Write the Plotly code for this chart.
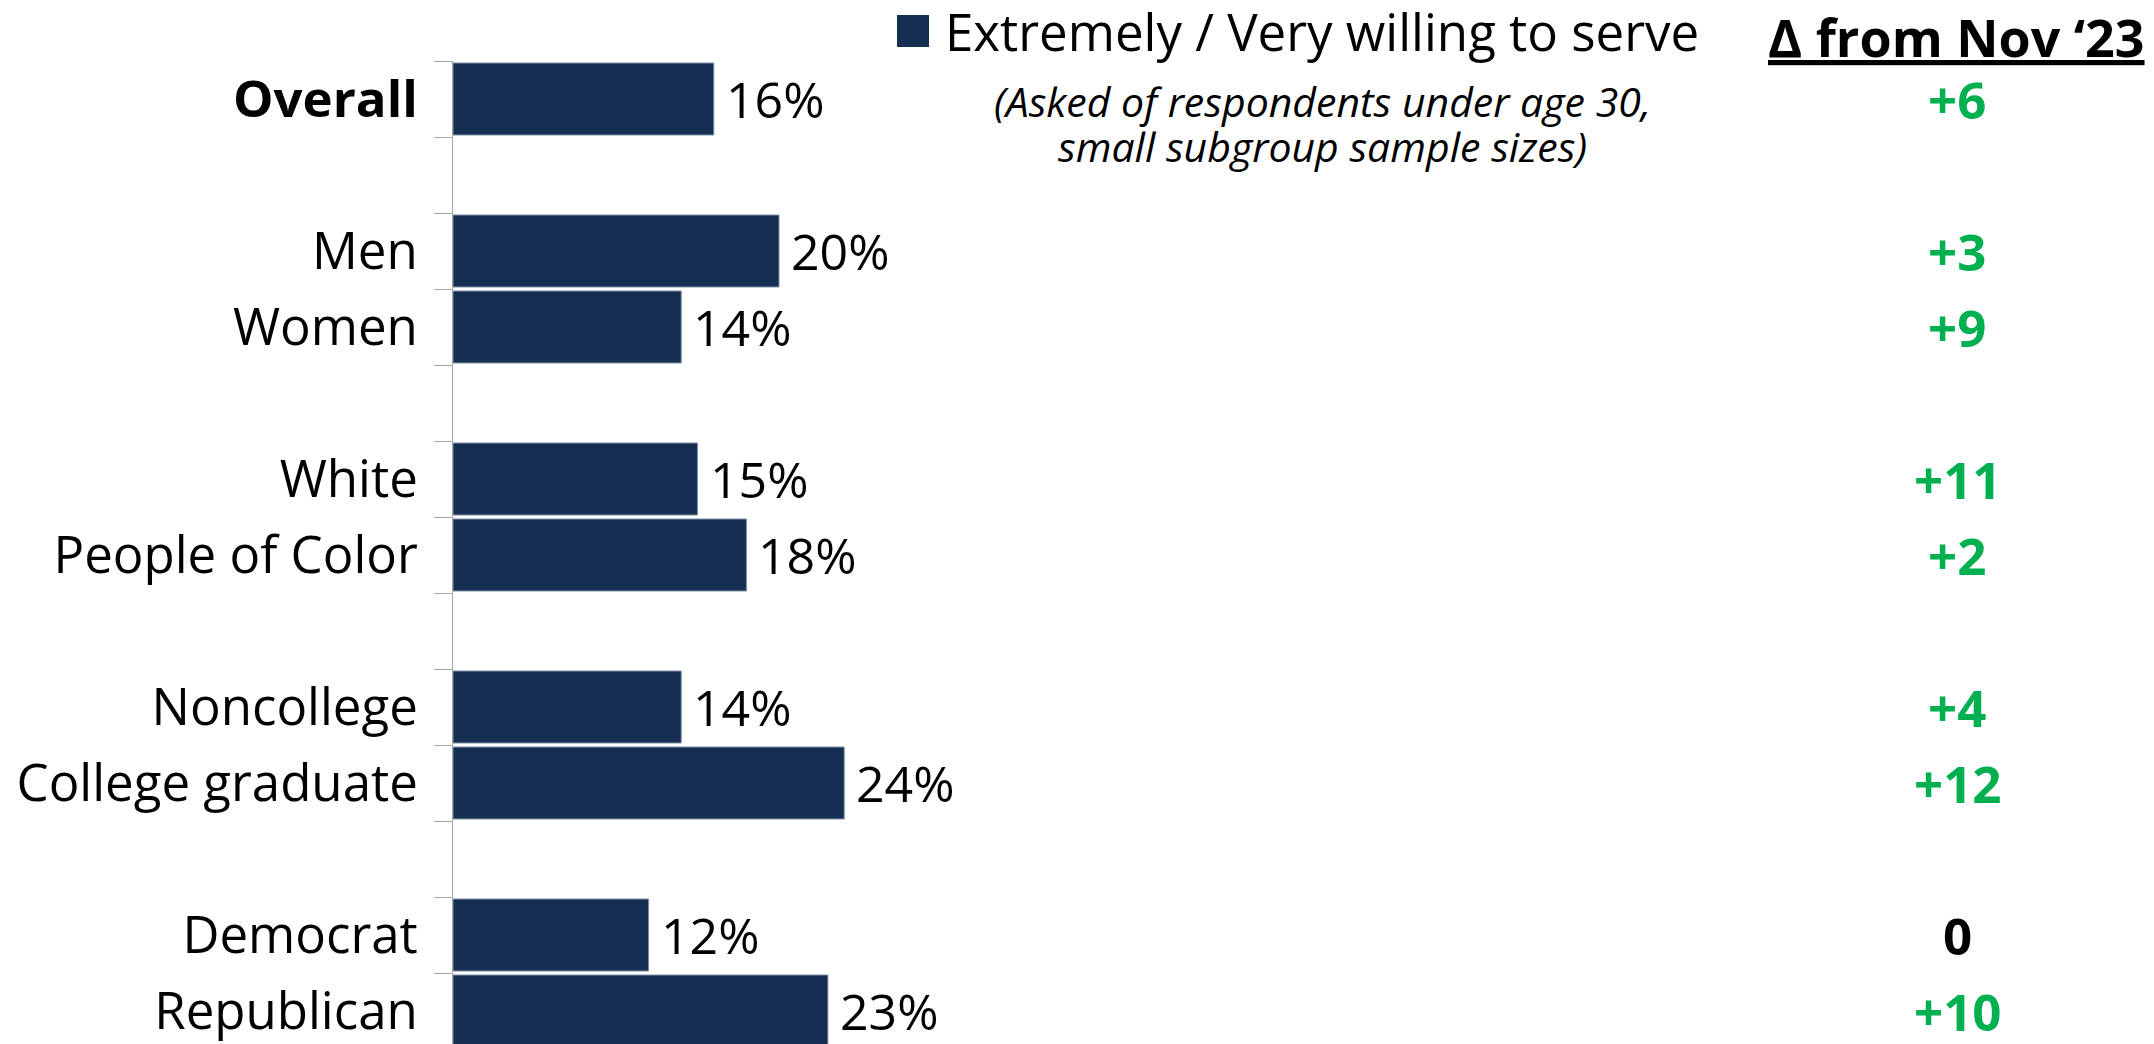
import plotly.graph_objects as go

# ---- data ----
labels = ["Overall", "Men", "Women", "White", "People of Color",
          "Noncollege", "College graduate", "Democrat", "Republican"]
values = [16, 20, 14, 15, 18, 14, 24, 12, 23]
deltas = ["+6", "+3", "+9", "+11", "+2", "+4", "+12", "0", "+10"]
category_order = ["Overall", " ", "Men", "Women", "  ", "White", "People of Color",
                  "   ", "Noncollege", "College graduate", "    ", "Democrat", "Republican"]
legend_label = "Extremely / Very willing to serve"
subtitle_lines = ["(Asked of respondents under age 30,", "small subgroup sample sizes)"]
delta_header = "Δ from Nov ‘23"

# ---- style ----
W, H = 2154, 1044
OFF = 8  # page body offset
ML, MT, MR, MB = 453 - OFF, 61 - OFF, OFF, OFF
PW, PH = W - ML - MR, H - MT - MB
FONT = "Open Sans, Noto Sans, sans-serif"
BAR = "#152e51"
GREEN = "#00b050"
PX_PER_PCT = 16.3


def px(x):  # page pixel -> paper
    return (x - OFF - ML) / PW


def py(y):
    return (H - MB - (y - OFF)) / PH


fig = go.Figure()
fig.add_trace(go.Bar(
    y=labels, x=values, orientation="h",
    marker=dict(color=BAR, line=dict(color="#7f90a8", width=1)),
    showlegend=False, hoverinfo="skip",
))

ticktext = ["<b>Overall</b>" if c == "Overall" else c for c in category_order]

fig.update_layout(
    width=W, height=H,
    margin=dict(l=ML, r=MR, t=MT, b=MB, pad=0),
    plot_bgcolor="white", paper_bgcolor="white",
    bargap=0.053,
    font=dict(family=FONT, color="black"),
    xaxis=dict(range=[0, PW / PX_PER_PCT], visible=False, showgrid=False, zeroline=False),
    yaxis=dict(
        type="category", categoryorder="array", categoryarray=category_order,
        tickmode="array", tickvals=category_order, ticktext=ticktext,
        range=[12.5 - 5 / 76, -0.5],
        tickson="boundaries", ticks="outside", ticklen=18, tickcolor="#a6a6a6", tickwidth=1,
        showline=True, linecolor="#a6a6a6", linewidth=1,
        showgrid=False, zeroline=False,
        tickfont=dict(size=51, family=FONT, color="black"),
        ticklabelstandoff=24,
    ),
)

# value labels
for lab, v in zip(labels, values):
    fig.add_annotation(x=v, y=lab, xref="x", yref="y", text=f"{v}%", showarrow=False,
                       xanchor="left", yanchor="middle", xshift=10,
                       font=dict(size=50, family=FONT, color="black"))

# delta column
for lab, d in zip(labels, deltas):
    fig.add_annotation(x=px(1957), y=lab, xref="paper", yref="y", text=f"<b>{d}</b>",
                       showarrow=False, xanchor="center", yanchor="middle",
                       font=dict(size=51, family=FONT, color=("black" if d == "0" else GREEN)))

# header
fig.add_annotation(x=px(1956), y=py(37), xref="paper", yref="paper",
                   text=f"<b><u>{delta_header}</u></b>", showarrow=False,
                   xanchor="center", yanchor="middle",
                   font=dict(size=52, family=FONT, color="black"))

# legend
fig.add_shape(type="rect", xref="paper", yref="paper",
              x0=px(897), x1=px(929), y0=py(47), y1=py(15),
              fillcolor=BAR, line=dict(width=0))
fig.add_annotation(x=px(943), y=py(31), xref="paper", yref="paper",
                   text=legend_label, showarrow=False, xanchor="left", yanchor="middle",
                   font=dict(size=51, family=FONT, color="black"))
for line, yc in zip(subtitle_lines, [101, 146]):
    fig.add_annotation(x=px(1322), y=py(yc), xref="paper", yref="paper",
                       text=f"<i>{line}</i>", showarrow=False, xanchor="center", yanchor="middle",
                       font=dict(size=41, family=FONT, color="black"))

fig.write_html("out.html")
